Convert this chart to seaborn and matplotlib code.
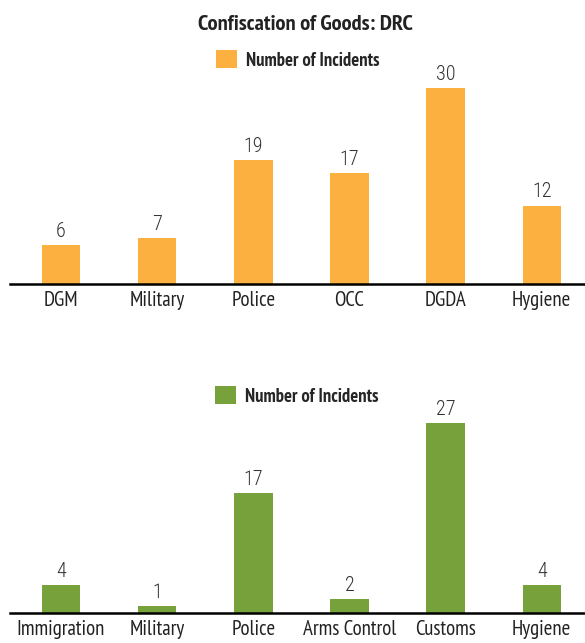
import matplotlib
matplotlib.use("Agg")
import matplotlib.pyplot as plt
import seaborn as sns
import pandas as pd
from matplotlib.patches import Patch

top_categories = ["DGM", "Military", "Police", "OCC", "DGDA", "Hygiene"]
top_values = [6, 7, 19, 17, 30, 12]
bottom_categories = ["Immigration", "Military", "Police", "Arms Control", "Customs", "Hygiene"]
bottom_values = [4, 1, 17, 2, 27, 4]
title = "Confiscation of Goods: DRC"
legend_label = "Number of Incidents"

ORANGE = "#FBB040"
GREEN = "#77A23B"

sns.set_theme(style="white")
plt.rcParams['font.family'] = ['PT Sans Narrow', 'DejaVu Sans']
VALUE_FONT = ['Roboto Condensed', 'PT Sans Narrow', 'DejaVu Sans']

W, H = 585, 643
fig = plt.figure(figsize=(W / 100, H / 100), dpi=100)

def px_axes(x0, x1, ytop, ybot):
    return fig.add_axes([x0 / W, 1 - ybot / H, (x1 - x0) / W, (ybot - ytop) / H])

def draw(ax, cats, vals, color, ymax, leg_xy):
    df = pd.DataFrame({"cat": cats, "val": vals})
    sns.barplot(data=df, x="cat", y="val", color=color, width=0.40, ax=ax,
                saturation=1, edgecolor="none")
    ax.set_xlim(-0.53, 5.45)
    ax.set_ylim(0, ymax)
    for c in ax.containers:
        ax.bar_label(c, padding=3, fontsize=14.5, color="#333333",
                     fontweight=300, family=VALUE_FONT)
    for s in ["top", "left", "right"]:
        ax.spines[s].set_visible(False)
    ax.spines["bottom"].set_color("black")
    ax.spines["bottom"].set_linewidth(1.8)
    ax.set_yticks([])
    ax.set_xlabel("")
    ax.set_ylabel("")
    ax.tick_params(axis="x", length=0, pad=5, labelsize=15, colors="#222222")
    handles = [Patch(facecolor=color, edgecolor="none")]
    ax.legend(handles, [legend_label], loc="center", bbox_to_anchor=leg_xy,
              bbox_transform=fig.transFigure, frameon=False,
              prop={"weight": "bold", "size": 13.4}, handlelength=1.1,
              handleheight=1.1, handletextpad=0.5)

ax1 = px_axes(10, 585, 50, 284)
draw(ax1, top_categories, top_values, ORANGE, 234 / 6.53, (298 / W, 1 - 60 / H))

ax2 = px_axes(10, 585, 380, 613)
draw(ax2, bottom_categories, bottom_values, GREEN, 233 / 7.04, (297 / W, 1 - 396 / H))

fig.text(305 / W, 1 - 25 / H, title, ha="center", va="center",
         fontsize=16.2, fontweight="bold", color="#222222")

fig.savefig("out.png", dpi=100)
